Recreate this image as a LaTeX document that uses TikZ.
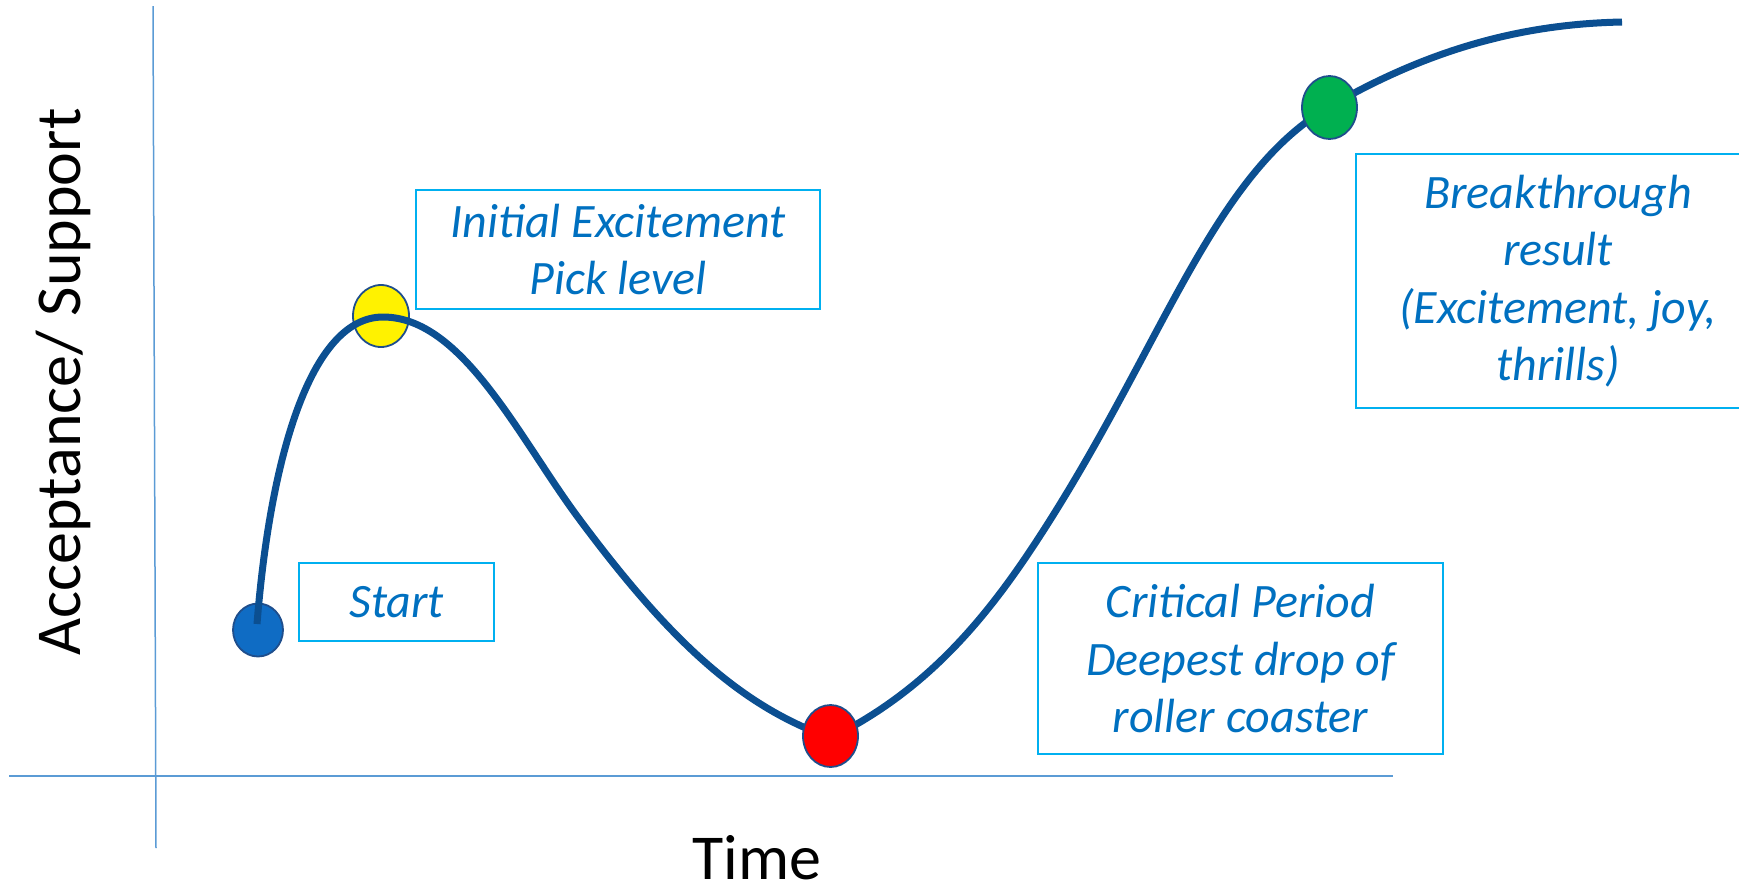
\documentclass[tikz,border=0pt]{standalone}
\usepackage{fontspec}
\setmainfont{Carlito}
\usetikzlibrary{shapes.geometric}
\definecolor{curveblue}{RGB}{11,79,145}
\definecolor{axisblue}{RGB}{91,155,213}
\definecolor{boxblue}{RGB}{0,176,240}
\definecolor{textblue}{RGB}{0,112,192}
\definecolor{dotedge}{RGB}{31,78,140}
\definecolor{startfill}{RGB}{15,108,196}
\definecolor{greenfill}{RGB}{0,176,80}
\begin{document}
\begin{tikzpicture}[x=1pt,y=-1pt,
  axis/.style={draw=axisblue, line width=1.5pt},
  labelbox/.style={draw=boxblue, line width=2pt, text=textblue,
    font=\fontsize{48}{57.5}\selectfont\itshape, align=center, inner sep=0pt},
  dot/.style={ellipse, draw=dotedge, line width=1.8pt, inner sep=0pt},
  curveline/.style={draw=curveblue, line width=7pt},
  axlabel/.style={font=\fontsize{64}{70}\selectfont, text=black, inner sep=0pt}]
\useasboundingbox (0,0) rectangle (1739,887);
% axes
\coordinate (vtop) at (153,6);
\coordinate (vbot) at (156,848);
\coordinate (hleft) at (9,776);
\coordinate (hright) at (1393,776);
\draw[axis] (vtop) -- (vbot);
\draw[axis] (hleft) -- (hright);
\node[axlabel, rotate=90, anchor=base] (ylab) at (80,382) {Acceptance/ Support};
\node[axlabel, anchor=base] (xlab) at (757,879) {Time};
% label boxes
\node[labelbox, minimum width=195, minimum height=78] (start) at (396.5,602) {Start};
\node[labelbox, minimum width=404, minimum height=119] (initial) at (618,249.5) {Initial Excitement\\Pick level};
\node[labelbox, minimum width=405, minimum height=191] (critical) at (1240.5,658.5) {Critical Period\\Deepest drop of\\roller coaster};
\node[labelbox, minimum width=404, minimum height=254] (break) at (1558,281) {Breakthrough\\result\\(Excitement, joy,\\thrills)};
% dots under the curve
\node[dot, fill=startfill, minimum width=50, minimum height=53] (d1) at (258,630) {};
\node[dot, fill=yellow, minimum width=56, minimum height=62] (d2) at (381,316) {};
% curve
\coordinate (c0) at (257,624);
\coordinate (c1) at (383,317);
\coordinate (c2) at (580,520);
\coordinate (c3) at (831,738);
\coordinate (c4) at (1030,551);
\coordinate (c5) at (1329,107);
\coordinate (c6) at (1622,22);
\draw[curveline]
  (c0) .. controls (270,460) and (310,317) .. (c1)
       .. controls (463,317) and (520,440) .. (c2)
       .. controls (670,641) and (741,706.5) .. (c3)
       .. controls (911,698) and (970,641) .. (c4)
       .. controls (1160,356) and (1209,176.6) .. (c5)
       .. controls (1429,49) and (1522,24) .. (c6);
% dots over the curve
\node[dot, fill=red, minimum width=55, minimum height=62] (d3) at (830.5,736) {};
\node[dot, fill=greenfill, minimum width=55, minimum height=63] (d4) at (1329.5,107.5) {};
\end{tikzpicture}
\end{document}
